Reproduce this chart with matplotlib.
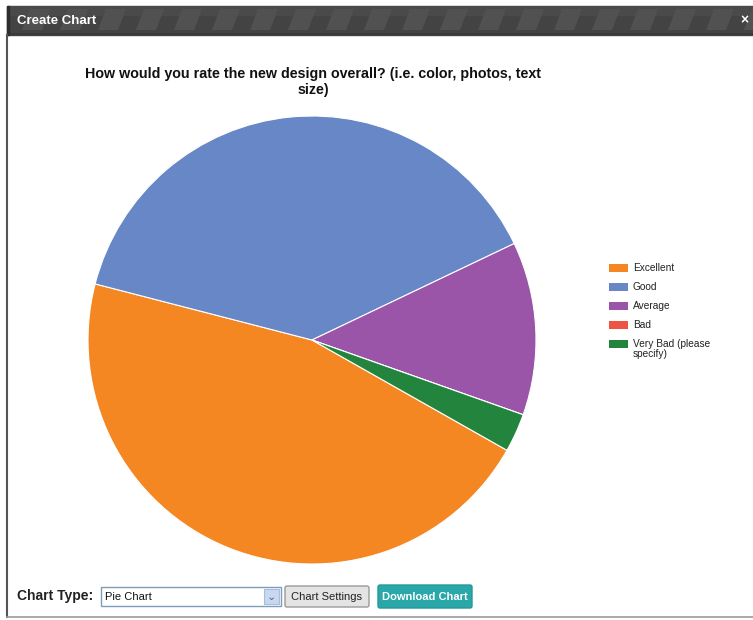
import matplotlib
matplotlib.use('Agg')
import matplotlib.pyplot as plt
from matplotlib.patches import Rectangle, Polygon, FancyBboxPatch

plt.rcParams['font.family'] = ['Liberation Sans', 'DejaVu Sans']

# survey answers
labels = ['Excellent', 'Good', 'Average', 'Bad', 'Very Bad (please\nspecify)']
counts = [33, 28, 9, 0, 2]
colors = ['#f48721', '#6787c7', '#9a55a8', '#ee5441', '#23853d']
title = 'How would you rate the new design overall? (i.e. color, photos, text\nsize)'

W, H = 753, 620
fig = plt.figure(figsize=(W / 100, H / 100), dpi=100)
fig.patch.set_facecolor('white')

# overlay in pixel coordinates for the dialog chrome
ui = fig.add_axes([0, 0, 1, 1])
ui.set_xlim(0, W)
ui.set_ylim(H, 0)
ui.axis('off')

# title bar with soft diagonal stripes
ui.add_patch(Rectangle((7, 6), W - 7, 29, color='#434343', zorder=1))
ui.add_patch(Rectangle((7, 6), W - 7, 10, color='#4a4a4a', zorder=1, lw=0))
for x0 in range(22, W + 40, 38):
    ui.add_patch(Polygon([(x0 + 8, 9), (x0 + 28, 9), (x0 + 20, 30), (x0, 30)],
                         closed=True, color='#515151', zorder=2, lw=0))
ui.add_patch(Rectangle((7, 33), W - 7, 2, color='#3a3a3a', zorder=3, lw=0))
ui.add_patch(Rectangle((7, 6), 2, 29, color='#2e2e2e', zorder=3))
ui.text(17, 21, 'Create Chart', color='white', fontsize=9.5, fontweight='bold',
        va='center', ha='left', zorder=4)
ui.text(744, 20, '×', color='white', fontsize=10, fontweight='bold',
        va='center', ha='center', zorder=4)

# window border
ui.plot([7.5, 7.5], [35, 617], color='#555555', lw=1.5, zorder=3)
ui.plot([7, W], [616.5, 616.5], color='#9a9a9a', lw=1.2, zorder=3)

# chart title
ui.text(313, 82, title, ha='center', va='center', fontsize=10.3,
        fontweight='bold', color='#111111', linespacing=1.1)

# legend
for i, (lab, c) in enumerate(zip(labels, colors)):
    y = 268 + i * 19
    ui.add_patch(Rectangle((609, y - 4), 19, 8, color=c, lw=0))
    ty = y + 5 if '\n' in lab else y
    ui.text(633, ty, lab, fontsize=7.3, va='center', ha='left',
            color='#222222', linespacing=0.95)

# bottom controls
ui.text(17, 596, 'Chart Type:', fontsize=10, fontweight='bold',
        va='center', ha='left', color='#222222')
ui.add_patch(Rectangle((101, 587), 180, 19, facecolor='white',
                       edgecolor='#7f9db9', lw=1))
ui.text(105, 597, 'Pie Chart', fontsize=8, va='center', ha='left', color='#111111')
ui.add_patch(Rectangle((264, 589), 15, 15, facecolor='#c8d8f0',
                       edgecolor='#a8bcdc', lw=0.8))
ui.text(271.5, 596.5, '⌄', fontsize=8, va='center', ha='center',
        color='#4d6185', family=['DejaVu Sans'])

ui.add_patch(FancyBboxPatch((285, 586), 84, 21, boxstyle='round,pad=0,rounding_size=2',
                            facecolor='#e4e4e4', edgecolor='#9a9a9a', lw=1))
ui.text(327, 597, 'Chart Settings', fontsize=8, va='center', ha='center',
        color='#222222')
ui.add_patch(FancyBboxPatch((378, 585), 94, 23, boxstyle='round,pad=0,rounding_size=2',
                            facecolor='#2aa7a8', edgecolor='#23999a', lw=1))
ui.text(425, 597, 'Download Chart', fontsize=8, va='center', ha='center',
        color='white', fontweight='bold')

# pie chart
cx, cy, r = 312, 340, 224
ax = fig.add_axes([(cx - r) / W, (H - cy - r) / H, 2 * r / W, 2 * r / H])
ax.pie(counts, colors=colors, startangle=-29.5, counterclock=False,
       wedgeprops=dict(edgecolor='white', linewidth=0.8))
ax.set_aspect('equal')
ax.set_xlim(-1, 1)
ax.set_ylim(-1, 1)

fig.savefig('out.png', dpi=100, facecolor='white')
